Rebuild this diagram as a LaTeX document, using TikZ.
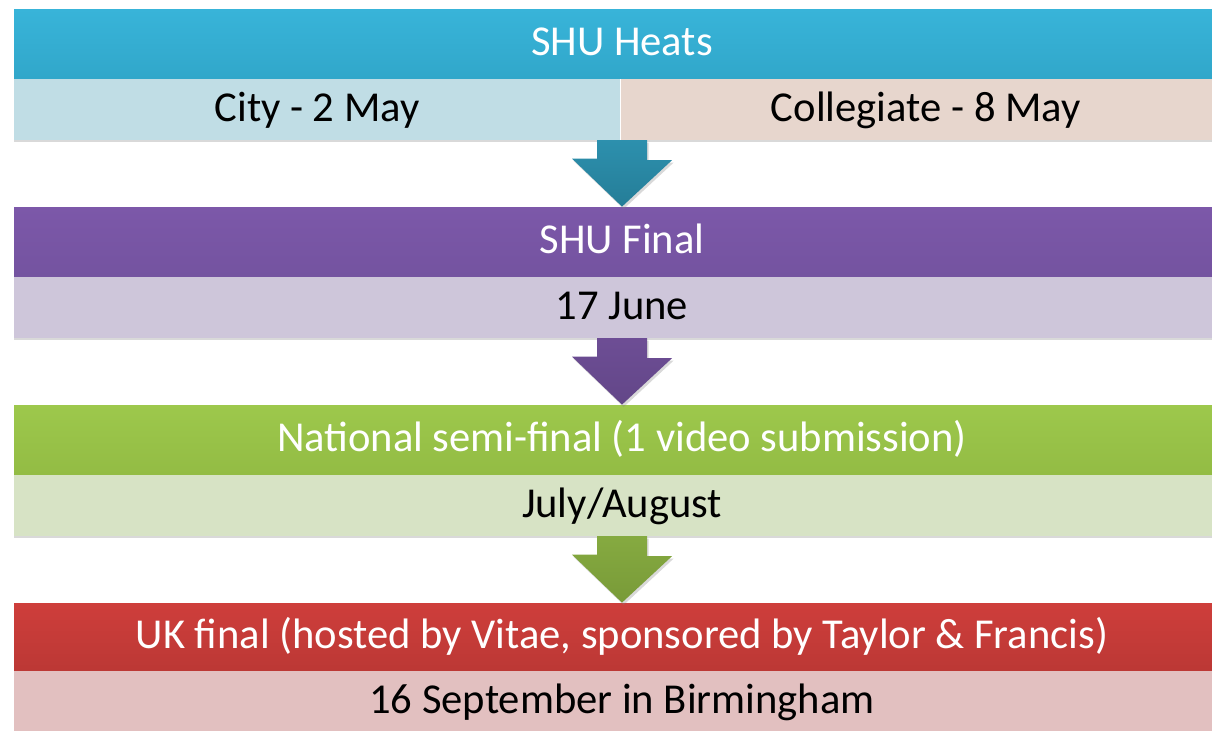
\documentclass[tikz,border=0pt]{standalone}
\usepackage{fontspec}
\setmainfont{Carlito}
\usetikzlibrary{positioning,shadows}

\definecolor{heatsTop}{HTML}{38B4D9}
\definecolor{heatsBot}{HTML}{31A7CA}
\definecolor{cityFill}{HTML}{C0DDE5}
\definecolor{collFill}{HTML}{E7D6CD}
\definecolor{finalTop}{HTML}{7C58A9}
\definecolor{finalBot}{HTML}{7453A0}
\definecolor{finalFill}{HTML}{CEC6DA}
\definecolor{semiTop}{HTML}{9DC84C}
\definecolor{semiBot}{HTML}{93BC44}
\definecolor{semiFill}{HTML}{D7E3C5}
\definecolor{ukTop}{HTML}{CE3E3B}
\definecolor{ukBot}{HTML}{BC3835}
\definecolor{ukFill}{HTML}{E2C0C0}

\begin{document}
\begin{tikzpicture}[x=0.5pt,y=-0.5pt,
  head/.style={rectangle, minimum width=608pt, minimum height=34.5pt, inner sep=0pt,
    text=white, text height=16pt, text depth=4pt, font=\fontsize{21.3}{25}\selectfont},
  date/.style={rectangle, minimum width=608pt, minimum height=30.5pt, inner sep=0pt,
    text=black, text height=16pt, text depth=4pt, font=\fontsize{21.3}{25}\selectfont,
    drop shadow={shadow xshift=0pt, shadow yshift=-1.2pt, opacity=0.3}},
  down/.style={drop shadow={shadow xshift=0.8pt, shadow yshift=-1.2pt, opacity=0.3}}]

\useasboundingbox (0,0) rectangle (1212,730);

\node[head, top color=heatsTop, bottom color=heatsBot] (heats) at (622,43.5) {SHU Heats};
\node[date, fill=cityFill, anchor=north west, minimum width=303pt] (heatsCity) at (heats.south west) {City - 2 May};
\node[date, fill=collFill, right=0pt of heatsCity, minimum width=305pt] (heatsColl) {Collegiate - 8 May};

\node[head, top color=finalTop, bottom color=finalBot] (final) at (622,241.5) {SHU Final};
\node[date, fill=finalFill, below=0pt of final] (finalDate) {17 June};

\node[head, top color=semiTop, bottom color=semiBot] (semi) at (622,439.5) {National semi-final (1 video submission)};
\node[date, fill=semiFill, below=0pt of semi] (semiDate) {July/August};

\node[head, top color=ukTop, bottom color=ukBot, minimum height=33.5pt] (uk) at (622,636.5) {UK final (hosted by Vitae, sponsored by Taylor \& Francis)};
\node[date, fill=ukFill, below=0pt of uk] (ukDate) {16 September in Birmingham};

\coordinate (a1) at (heatsCity.south -| heats.south);
\coordinate (a2) at (finalDate.south);
\coordinate (a3) at (semiDate.south);

\shade[down, top color=heatsTop!80!black, bottom color=heatsBot!75!black]
  (a1) +(-25,0) -- +(25,0) -- +(25,20) -- +(50,20) -- (final.north) -- +(-50,-48) -- +(-25,-48) -- cycle;
\shade[down, top color=finalTop!88!black, bottom color=finalBot!85!black]
  (a2) +(-25,0) -- +(25,0) -- +(25,20) -- +(50,20) -- (semi.north) -- +(-50,-48) -- +(-25,-48) -- cycle;
\shade[down, top color=semiTop!85!black, bottom color=semiBot!82!black]
  (a3) +(-25,0) -- +(25,0) -- +(25,20) -- +(50,20) -- (uk.north) -- +(-50,-48) -- +(-25,-48) -- cycle;

\end{tikzpicture}
\end{document}
